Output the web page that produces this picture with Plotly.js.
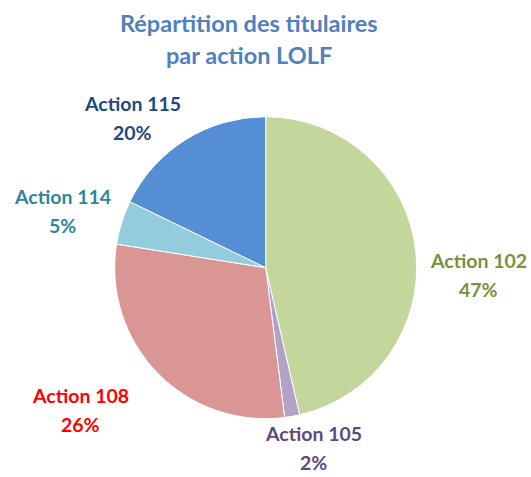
<!DOCTYPE html>
<html>
<head>
<meta charset="utf-8">
<script src="https://cdn.plot.ly/plotly-3.0.1.min.js"></script>
<style>html,body{margin:0;padding:0;background:#fff;}#chart{width:531px;height:477px;}</style>
</head>
<body>
<div id="chart"></div>
<script>
// Data
const categories = ["Action 102", "Action 105", "Action 108", "Action 114", "Action 115"];
const sliceValues = [46.4, 1.6, 29.5, 4.7, 17.8];      // slice sizes as drawn
const shownPercents = ["47%", "2%", "26%", "5%", "20%"]; // percentages printed on the chart
const titleLines = ["Répartition des titulaires", "par action LOLF"];

// Styles
const sliceColors = ["#C3D69B", "#B3A2C7", "#D99694", "#93CDDD", "#558ED5"];
const labelColors = ["#77933C", "#604A7B", "#FF0000", "#31859C", "#1F497D"];
const labelCenters = [[478, 275], [313, 448], [80, 410], [62, 211], [132, 118]]; // px, block centres
const W = 531, H = 477;
const FONT = "Lato, 'Open Sans', sans-serif";

const cx = 265.7, cy = 267.7, r = 151;

const trace = {
  type: "pie",
  labels: categories,
  values: sliceValues,
  sort: false,
  direction: "clockwise",
  rotation: 0,
  textinfo: "none",
  hoverinfo: "label+percent",
  marker: { colors: sliceColors, line: { color: "#ffffff", width: 1 } },
  domain: {
    x: [(cx - r) / W, (cx + r) / W],
    y: [(H - cy - r) / H, (H - cy + r) / H]
  },
  showlegend: false
};

const annotations = [];
titleLines.forEach((t, i) => {
  annotations.push({
    text: "<b>" + t + "</b>", xref: "paper", yref: "paper",
    x: 249 / W, y: 1 - (23 + i * 32) / H, xanchor: "center", yanchor: "middle",
    showarrow: false, font: { family: FONT, size: 23.5, color: "#4F81BD" }
  });
});
categories.forEach((c, i) => {
  const [px, py] = labelCenters[i];
  [c, shownPercents[i]].forEach((t, j) => {
    annotations.push({
      text: "<b>" + t + "</b>", xref: "paper", yref: "paper",
      x: px / W, y: 1 - (py - 14.5 + j * 29) / H, xanchor: "center", yanchor: "middle",
      showarrow: false, font: { family: FONT, size: 19.5, color: labelColors[i] }
    });
  });
});

const layout = {
  width: W, height: H,
  margin: { l: 0, r: 0, t: 0, b: 0 },
  paper_bgcolor: "#ffffff",
  annotations: annotations
};

Plotly.newPlot("chart", [trace], layout, { displayModeBar: false, staticPlot: true });
</script>
</body>
</html>
